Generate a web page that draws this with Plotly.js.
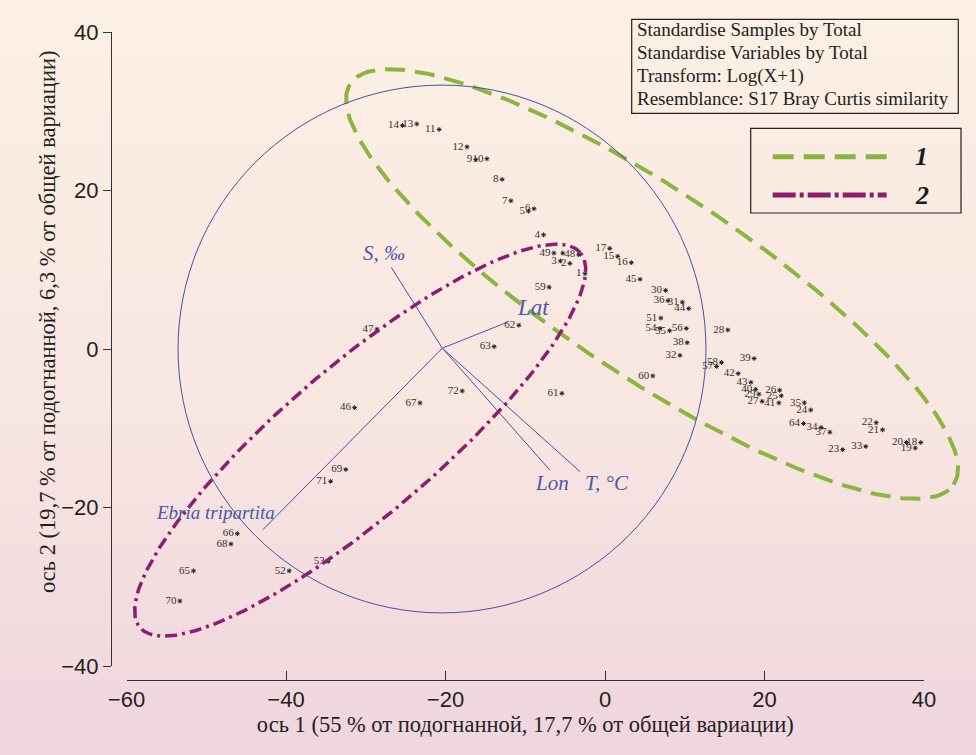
<!DOCTYPE html>
<html><head><meta charset="utf-8">
<script src="https://cdn.plot.ly/plotly-3.0.1.min.js"></script>
<style>
html,body{margin:0;padding:0;}
#chart{width:976px;height:755px;background:linear-gradient(180deg,#fcf0e4 0%,#f8e6e1 55%,#efd5de 100%);}
</style></head><body><div id="chart"></div>
<script>
// ---- Sample scores (PCO axis 1, axis 2) ----
const sampleLabels = ["1","2","3","4","5","6","7","8","9","10","11","12","13","14","15","16","17","18","19","20",
  "21","22","23","24","25","26","27","28","29","30","31","32","33","34","35","36","37","38","39","40",
  "41","42","43","44","45","46","47","48","49","","51","52","53","54","55","56","57","58","59","60",
  "61","62","63","64","65","66","67","68","69","70","71","72"];
const axis1 = [-2.5,-4.4,-5.6,-7.7,-9.6,-8.9,-11.8,-12.9,-16.2,-14.8,-20.8,-17.3,-23.6,-25.4,1.6,3.3,0.6,39.6,38.9,37.8,
  34.8,34.0,29.8,25.8,22.1,21.9,19.7,15.4,19.3,7.6,9.7,9.4,32.7,27.1,25.0,7.9,28.2,10.3,18.7,18.9,
  21.8,16.7,18.3,10.5,4.4,-31.4,-28.6,-3.3,-6.4,-5.3,7.0,-39.6,-34.7,6.9,8.1,10.2,14.0,14.6,-7.0,6.0,
  -5.4,-10.8,-13.9,24.9,-51.6,-46.1,-23.2,-46.9,-32.5,-53.3,-34.4,-17.9];
const axis2 = [9.5,10.8,11.1,14.4,17.4,17.7,18.7,21.4,23.9,24.0,27.7,25.5,28.4,28.2,11.7,10.9,12.7,-11.8,-12.5,-11.8,
  -10.2,-9.3,-12.7,-7.7,-5.9,-5.2,-6.6,2.4,-5.7,7.4,5.9,-0.8,-12.3,-9.9,-6.8,6.1,-10.5,0.8,-1.2,-5.1,
  -6.8,-3.1,-4.2,5.1,8.8,-7.4,2.5,11.9,12.1,12.1,3.9,-28.0,-26.8,2.6,2.3,2.6,-2.2,-1.7,7.8,-3.4,
  -5.6,3.0,0.3,-9.4,-28.0,-23.3,-6.8,-24.6,-15.2,-31.8,-16.7,-5.3];

// ---- Correlation vectors ----
const vectorNames = ["S, ‰","Lat","Lon","T, °C","Ebria tripartita"];
const vectorX = [-26.8,-12.2,-6.9,-3.1,-42.9];
const vectorY = [10.3,3.4,-15.3,-15.5,-22.8];
const vectorOrigin = [-20.4, 0.1];
const vectorLabelX = [-27.7,-9.0,-6.65,0.25,-48.9];
const vectorLabelY = [12.1,5.3,-16.9,-16.9,-20.6];

// ---- Group ellipses: [centre x, centre y, semi-major, semi-minor, angle deg] ----
const group1Ellipse = [5.9, 8.2, 45.5, 11.7, -33.8];
const group2Ellipse = [-30.7, -11.5, 36.35, 9.48, 40.6];
const circleCentre = [-20.44, 0]; const circleR = [33.1, 33.3];

const infoLines = ["Standardise Samples by Total","Standardise Variables by Total","Transform: Log(X+1)","Resemblance: S17 Bray Curtis similarity"];
const legendNames = ["1","2"];
const xTitle = 'ось 1 (55 % от подогнанной, 17,7 % от общей вариации)';
const yTitle = 'ось 2 (19,7 % от подогнанной, 6,3 % от общей вариации)';

const W=976,H=755;
const px = v=>v/W, py = v=>1-v/H;
const GREEN="#8cb540", PURPLE="#8c1d6f", BLUE="#4651a0", VTEXT="#4d58a6";
// plot frame (pixels)
const X0=126.5, X1=924, Y0=32, Y1=666, XMIN=-60, XMAX=40, YMIN=-40, YMAX=40;
const sx=(X1-X0)/(XMAX-XMIN), sy=(Y1-Y0)/(YMAX-YMIN);

function ellipse(p,n){const [cx,cy,a,b,ang]=p;const t=ang*Math.PI/180;const xs=[],ys=[];
  for(let i=0;i<=n;i++){const q=2*Math.PI*i/n;const u=a*Math.cos(q),v=b*Math.sin(q);
    xs.push(cx+u*Math.cos(t)-v*Math.sin(t));ys.push(cy+u*Math.sin(t)+v*Math.cos(t));}
  return {xs,ys};}

const e1=ellipse(group1Ellipse,240), e2=ellipse(group2Ellipse,240);
const vx=[],vy=[];
vectorX.forEach((x,i)=>{vx.push(vectorOrigin[0],x,null);vy.push(vectorOrigin[1],vectorY[i],null);});

const traces=[
 {x:e1.xs,y:e1.ys,xaxis:'x2',yaxis:'y2',mode:'lines',line:{color:GREEN,width:4,dash:'20px,10px'},hoverinfo:'skip',showlegend:false},
 {x:e2.xs,y:e2.ys,xaxis:'x2',yaxis:'y2',mode:'lines',line:{color:PURPLE,width:3.5,dash:'12px,5px,3px,5px'},hoverinfo:'skip',showlegend:false},
 {x:vx,y:vy,mode:'lines',line:{color:BLUE,width:1},hoverinfo:'skip',showlegend:false},
 {x:axis1,y:axis2,text:sampleLabels,mode:'markers+text',textposition:'middle left',
  marker:{symbol:'asterisk-open',size:4,color:'#222',line:{color:'#222',width:1}},
  textfont:{family:'Liberation Serif',size:11,color:'#3a302c'},cliponaxis:false,showlegend:false}
];

const annotations=[];
vectorNames.forEach((n,i)=>annotations.push({xref:'x',yref:'y',x:vectorLabelX[i],y:vectorLabelY[i],text:'<i>'+n+'</i>',showarrow:false,
  font:{family:'Liberation Serif',size:i===4?19:(i===1?23:21),color:VTEXT}}));
const infoY=[30,52.7,76,98.3];
infoLines.forEach((t,i)=>annotations.push({xref:'paper',yref:'paper',x:px(635),y:py(infoY[i]),xanchor:'left',yanchor:'middle',
  text:t,showarrow:false,font:{family:'Liberation Serif',size:19,color:'#222'}}));
const legY=[156.7,195];
legendNames.forEach((t,i)=>annotations.push({xref:'paper',yref:'paper',x:px(921.7),y:py(legY[i]),xanchor:'center',yanchor:'middle',
  text:'<b><i>'+t+'</i></b>',showarrow:false,font:{family:'Liberation Serif',size:26,color:'#1a1a1a'}}));
annotations.push({xref:'paper',yref:'paper',x:px(47),y:py(322),text:yTitle,textangle:-90,showarrow:false,
  xanchor:'center',yanchor:'middle',font:{family:'Liberation Serif',size:22.5,color:'#222'}});

const shapes=[
 {type:'circle',xref:'x',yref:'y',x0:circleCentre[0]-circleR[0],x1:circleCentre[0]+circleR[0],y0:circleCentre[1]-circleR[1],y1:circleCentre[1]+circleR[1],line:{color:BLUE,width:1}},
 {type:'rect',xref:'paper',yref:'paper',x0:px(631.7),x1:px(958.3),y0:py(113.3),y1:py(19.3),line:{color:'#222',width:1.2}},
 {type:'rect',xref:'paper',yref:'paper',x0:px(750.7),x1:px(961),y0:py(213),y1:py(128.3),line:{color:'#222',width:1.2}},
 {type:'line',xref:'paper',yref:'paper',x0:px(772.7),x1:px(886.7),y0:py(legY[0]),y1:py(legY[0]),line:{color:GREEN,width:5,dash:'21px,10px'}},
 {type:'line',xref:'paper',yref:'paper',x0:px(772.7),x1:px(886.7),y0:py(legY[1]),y1:py(legY[1]),line:{color:PURPLE,width:5,dash:'23px,4px,4px,4px'}}
];

const layout={width:W,height:H,autosize:false,margin:{l:0,r:0,t:0,b:0},
 paper_bgcolor:'rgba(0,0,0,0)',plot_bgcolor:'rgba(0,0,0,0)',showlegend:false,
 xaxis:{domain:[px(X0),px(X1)],range:[XMIN,XMAX],anchor:'free',position:(H-680)/H,showline:true,linecolor:'#333',linewidth:1,
   ticks:'inside',ticklen:9,tickcolor:'#333',dtick:20,tick0:0,showgrid:false,zeroline:false,
   tickfont:{family:'Liberation Sans',size:22,color:'#222'},
   title:{text:xTitle,font:{family:'Liberation Serif',size:22.5,color:'#222'},standoff:4}},
 yaxis:{domain:[py(Y1),py(Y0)],range:[YMIN,YMAX],anchor:'free',position:px(111),showline:true,linecolor:'#333',linewidth:1,
   ticks:'outside',ticklen:8,tickcolor:'#333',dtick:20,tick0:0,showgrid:false,zeroline:false,
   tickfont:{family:'Liberation Sans',size:22,color:'#222'}},
 // full-page overlay axes with the same scale, so the ellipses are not clipped at the frame
 xaxis2:{domain:[0,1],range:[XMIN-X0/sx, XMIN+(W-X0)/sx],anchor:'y2',visible:false,fixedrange:true},
 yaxis2:{domain:[0,1],range:[YMIN-(H-Y1)/sy, YMAX+Y0/sy],anchor:'x2',visible:false,fixedrange:true},
 shapes,annotations};

Plotly.newPlot('chart',traces,layout,{displayModeBar:false,staticPlot:true});
</script></body></html>
